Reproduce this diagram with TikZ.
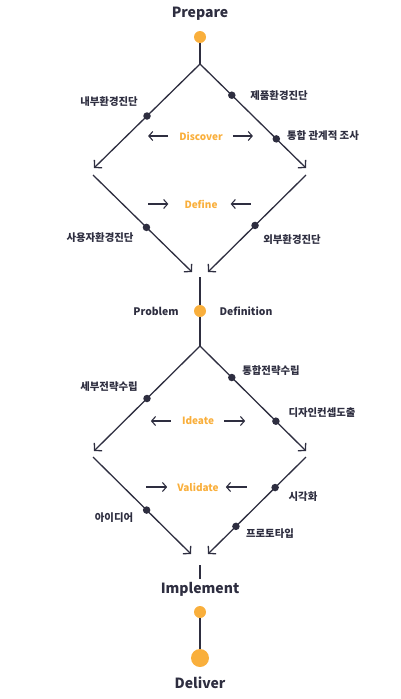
\documentclass[tikz,border=0pt]{standalone}
\usepackage{fontspec}
\setmainfont{Noto Sans CJK KR}
\usetikzlibrary{arrows.meta}
\definecolor{Ink}{HTML}{2E2E40}
\definecolor{Accent}{HTML}{F9AF3C}

\begin{document}
\begin{tikzpicture}[x=1pt,y=-1pt,
  flow/.style={Ink,line width=1.3pt},
  flowarrow/.style={flow,-{Straight Barb[length=5pt,width=11pt]}},
  hint/.style={Ink,line width=1.1pt,-{Straight Barb[length=4pt,width=9pt]}},
  phase/.style={font=\bfseries\fontsize{10}{12}\selectfont,text=Accent,inner sep=0pt},
  stage/.style={font=\bfseries\fontsize{14}{16}\selectfont,text=Ink,inner sep=0pt},
  task/.style={font=\bfseries\fontsize{10.4}{12}\selectfont,text=Ink,inner sep=0pt},
  milestone/.style={circle,fill=Accent,minimum size=12pt,inner sep=0pt},
  checkpoint/.style={circle,fill=Ink,minimum size=7.5pt,inner sep=0pt}]
\useasboundingbox (0,0) rectangle (400,699);
% stages on the spine
\node[stage] (prepare) at (200,14) {Prepare};
\node[milestone] (prepareDot) at (200,37) {};
\node[milestone] (problemDot) at (200,311) {};
\node[task,font=\bfseries\fontsize{10.4}{12}\selectfont] (problem) at (156,311) {Problem};
\node[task,font=\bfseries\fontsize{10.4}{12}\selectfont] (definition) at (246,311) {Definition};
\node[stage] (implement) at (200,589) {Implement};
\node[milestone] (implementDot) at (200,612) {};
\node[milestone,minimum size=18pt] (deliverDot) at (200,658) {};
\node[stage] (deliver) at (200,683) {Deliver};
% first diamond
\coordinate (apexA) at (200,64);
\coordinate (tipAL) at (94,168);
\coordinate (tipAR) at (306,168);
\coordinate (startBL) at (93,175);
\coordinate (startBR) at (306,175);
\coordinate (tipBL) at (192,272);
\coordinate (tipBR) at (208,272);
\coordinate (spineA) at (200,277);
\coordinate (apexC) at (200,346);
\draw[flow] (prepareDot) -- (apexA);
\draw[flowarrow] (apexA) -- node[checkpoint,pos=0.5] (innerEnv) {} (tipAL);
\draw[flowarrow] (apexA) -- node[checkpoint,pos=0.3] (productEnv) {} node[checkpoint,pos=0.72] (relation) {} (tipAR);
\draw[flowarrow] (startBL) -- node[checkpoint,pos=0.54] (userEnv) {} (tipBL);
\draw[flowarrow] (startBR) -- node[checkpoint,pos=0.52] (outerEnv) {} (tipBR);
\draw[flow] (spineA) -- (problemDot) -- (apexC);
\node[task] at (109,102) {내부환경진단};
\node[task] at (279,96) {제품환경진단};
\node[task] at (323,136) {통합 관계적 조사};
\node[task] at (100,238) {사용자환경진단};
\node[task] at (292,240) {외부환경진단};
\node[phase] (discover) at (201,136) {Discover};
\draw[hint] (discover.west) ++(-11,0) -- ++(-20,0);
\draw[hint] (discover.east) ++(10,0) -- ++(20,0);
\node[phase] (define) at (201,204) {Define};
\draw[hint] (define.west) ++(-36,0) -- ++(20,0);
\draw[hint] (define.east) ++(33,0) -- ++(-20,0);
% second diamond
\coordinate (tipCL) at (94,451);
\coordinate (tipCR) at (306,451);
\coordinate (startDL) at (93,457);
\coordinate (startDR) at (306,457);
\coordinate (tipDL) at (191,554);
\coordinate (tipDR) at (208,554);
\coordinate (spineB) at (200,565);
\coordinate (spineC) at (200,579);
\draw[flowarrow] (apexC) -- node[checkpoint,pos=0.5] (detailPlan) {} (tipCL);
\draw[flowarrow] (apexC) -- node[checkpoint,pos=0.3] (unifiedPlan) {} node[checkpoint,pos=0.716] (concept) {} (tipCR);
\draw[flowarrow] (startDL) -- node[checkpoint,pos=0.547] (idea) {} (tipDL);
\draw[flowarrow] (startDR) -- node[checkpoint,pos=0.315] (visual) {} node[checkpoint,pos=0.715] (prototype) {} (tipDR);
\draw[flow] (spineB) -- (spineC);
\draw[flow] (implementDot) -- (deliverDot);
\node[task] at (109,387) {세부전략수립};
\node[task] at (271,371) {통합전략수립};
\node[task] at (322,413) {디자인컨셉도출};
\node[task] at (114,518) {아이디어};
\node[task] at (303,497) {시각화};
\node[task] at (270,534) {프로토타입};
\node[phase] (ideate) at (198,421) {Ideate};
\draw[hint] (ideate.west) ++(-11,0) -- ++(-20,0);
\draw[hint] (ideate.east) ++(10,0) -- ++(21,0);
\node[phase] (validate) at (198,487) {Validate};
\draw[hint] (validate.west) ++(-31,0) -- ++(21,0);
\draw[hint] (validate.east) ++(28,0) -- ++(-21,0);
\end{tikzpicture}
\end{document}
